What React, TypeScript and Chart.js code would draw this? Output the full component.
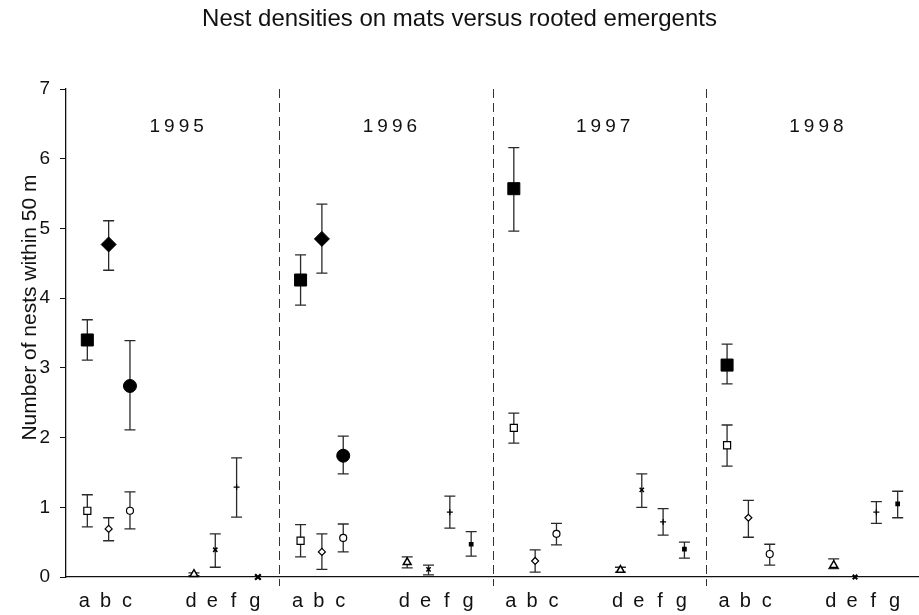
import React, { useEffect, useRef } from 'react';
import { Chart, registerables } from 'chart.js';

Chart.register(...registerables);

const FONT = "'Liberation Sans', Arial, Helvetica, sans-serif";

const years = ['1995', '1996', '1997', '1998'];
const categories = ['a', 'b', 'c', 'd', 'e', 'f', 'g'];
const slotOffsets = [1, 2, 3, 6, 7, 8, 9];
const panelSlots = 10;
const yTickValues = [0, 1, 2, 3, 4, 5, 6, 7];
const yAxisTitle = 'Number of nests within 50 m';

// Mats (filled markers) — categories a, b, c
const matA = [3.4, 4.26, 5.57, 3.04];
const matAHi = [3.69, 4.62, 6.16, 3.34];
const matALo = [3.11, 3.9, 4.96, 2.77];
const matB = [4.77, 4.85, null, null];
const matBHi = [5.11, 5.35, null, null];
const matBLo = [4.4, 4.36, null, null];
const matC = [2.74, 1.74, null, null];
const matCHi = [3.39, 2.02, null, null];
const matCLo = [2.11, 1.48, null, null];

// Rooted emergents (open markers) — categories a, b, c
const emA = [0.95, 0.52, 2.14, 1.89];
const emAHi = [1.18, 0.75, 2.35, 2.18];
const emALo = [0.72, 0.29, 1.92, 1.59];
const emB = [0.69, 0.36, 0.23, 0.85];
const emBHi = [0.85, 0.62, 0.39, 1.1];
const emBLo = [0.52, 0.11, 0.07, 0.57];
const emC = [0.95, 0.56, 0.62, 0.33];
const emCHi = [1.22, 0.76, 0.77, 0.47];
const emCLo = [0.69, 0.36, 0.46, 0.17];

// Categories d, e, f, g
const catD = [0.04, 0.21, 0.1, 0.17];
const catDHi = [0.06, 0.29, 0.14, 0.26];
const catDLo = [0.02, 0.13, 0.07, 0.12];
const catE = [0.39, 0.11, 1.25, 0.0];
const catEHi = [0.62, 0.17, 1.48, 0.0];
const catELo = [0.14, 0.03, 1.0, 0.0];
const catF = [1.29, 0.93, 0.79, 0.93];
const catFHi = [1.71, 1.16, 0.98, 1.08];
const catFLo = [0.86, 0.7, 0.6, 0.77];
const catG = [0.0, 0.47, 0.4, 1.05];
const catGHi = [0.0, 0.65, 0.5, 1.23];
const catGLo = [0.0, 0.3, 0.27, 0.85];

const xFor = (yearIdx: number, catIdx: number) => yearIdx * panelSlots + slotOffsets[catIdx];

function makeSet(label: string, catIdx: number, vals: (number | null)[], hi: (number | null)[], lo: (number | null)[], style: any) {
  const data: any[] = [];
  const his: (number | null)[] = [];
  const los: (number | null)[] = [];
  vals.forEach((v, i) => {
    if (v === null) return;
    data.push({ x: xFor(i, catIdx), y: v });
    his.push(hi[i]);
    los.push(lo[i]);
  });
  return { label, data, errHi: his, errLo: los, showLine: false, clip: false, ...style };
}

const errorBarPlugin = {
  id: 'errorBars',
  beforeDatasetsDraw(chart: any) {
    const { ctx } = chart;
    const yScale = chart.scales.y;
    ctx.save();
    ctx.strokeStyle = '#2a2a2a';
    ctx.lineWidth = 1.3;
    chart.data.datasets.forEach((ds: any, di: number) => {
      const meta = chart.getDatasetMeta(di);
      meta.data.forEach((pt: any, i: number) => {
        const hi = ds.errHi[i];
        const lo = ds.errLo[i];
        if (hi == null || lo == null || hi === lo) return;
        const x = pt.x;
        const yH = yScale.getPixelForValue(hi);
        const yL = yScale.getPixelForValue(lo);
        const cap = 5.5;
        ctx.beginPath();
        ctx.moveTo(x, yH);
        ctx.lineTo(x, yL);
        ctx.moveTo(x - cap, yH);
        ctx.lineTo(x + cap, yH);
        ctx.moveTo(x - cap, yL);
        ctx.lineTo(x + cap, yL);
        ctx.stroke();
      });
    });
    ctx.restore();
  },
};

const panelPlugin = {
  id: 'panels',
  beforeDatasetsDraw(chart: any) {
    const { ctx, chartArea } = chart;
    const xScale = chart.scales.x;
    const yScale = chart.scales.y;
    ctx.save();
    // dashed separators
    ctx.strokeStyle = '#333';
    ctx.lineWidth = 1;
    ctx.setLineDash([9, 5]);
    for (let i = 1; i < years.length; i++) {
      const x = Math.round(xScale.getPixelForValue(i * panelSlots)) + 0.5;
      ctx.beginPath();
      ctx.moveTo(x, chartArea.top);
      ctx.lineTo(x, chartArea.bottom + 9);
      ctx.stroke();
    }
    ctx.setLineDash([]);
    // year labels
    ctx.fillStyle = '#111';
    ctx.font = `19px ${FONT}`;
    (ctx as any).letterSpacing = '4px';
    ctx.textAlign = 'center';
    ctx.textBaseline = 'middle';
    years.forEach((yr, i) => {
      const x = xScale.getPixelForValue(i * panelSlots + panelSlots / 2) + 6;
      const y = yScale.getPixelForValue(6.46);
      ctx.fillText(yr, x, y);
    });
    (ctx as any).letterSpacing = '0px';
    // y-axis title, centred on the whole figure height
    ctx.translate(30, chart.height / 2);
    ctx.rotate(-Math.PI / 2);
    ctx.font = `21px ${FONT}`;
    ctx.fillText(yAxisTitle, 0, 0);
    ctx.restore();
  },
};

const tickPositions: number[] = [];
const tickLabelMap: Record<number, string> = {};
years.forEach((_, yi) => {
  categories.forEach((c, ci) => {
    const v = xFor(yi, ci);
    tickPositions.push(v);
    tickLabelMap[v] = c;
  });
});

export default function App() {
  const canvasRef = useRef<HTMLCanvasElement | null>(null);

  useEffect(() => {
    if (!canvasRef.current) return;
    const filled = { backgroundColor: '#000', borderColor: '#000', borderWidth: 1 };
    const open = { backgroundColor: '#fff', borderColor: '#000', borderWidth: 1.2 };
    const isZero = (c: any) => c.raw && c.raw.y === 0;
    const datasets = [
      makeSet('mats a', 0, matA, matAHi, matALo, { ...filled, pointStyle: 'rect', pointRadius: 8.5 }),
      makeSet('mats b', 1, matB, matBHi, matBLo, { ...filled, pointStyle: 'rectRot', pointRadius: 7.5 }),
      makeSet('mats c', 2, matC, matCHi, matCLo, { ...filled, pointStyle: 'circle', pointRadius: 6.5 }),
      makeSet('emergents a', 0, emA, emAHi, emALo, { ...open, pointStyle: 'rect', pointRadius: 5 }),
      makeSet('emergents b', 1, emB, emBHi, emBLo, { ...open, pointStyle: 'rectRot', pointRadius: 3.5 }),
      makeSet('emergents c', 2, emC, emCHi, emCLo, { ...open, pointStyle: 'circle', pointRadius: 3.5 }),
      makeSet('d', 3, catD, catDHi, catDLo, { ...open, borderWidth: 1.5, pointStyle: 'triangle', pointRadius: 4.5 }),
      makeSet('e', 4, catE, catEHi, catELo, {
        backgroundColor: '#000',
        borderColor: '#000',
        borderWidth: (c: any) => (isZero(c) ? 2 : 1.6),
        pointStyle: 'crossRot',
        pointRadius: (c: any) => (isZero(c) ? 3.2 : 3),
      }),
      makeSet('f', 5, catF, catFHi, catFLo, { backgroundColor: '#000', borderColor: '#000', borderWidth: 1.2, pointStyle: 'cross', pointRadius: 3 }),
      makeSet('g', 6, catG, catGHi, catGLo, {
        backgroundColor: '#000',
        borderColor: '#000',
        borderWidth: (c: any) => (isZero(c) ? 2.2 : 1.6),
        pointStyle: (c: any) => (isZero(c) ? 'crossRot' : 'rect'),
        pointRadius: (c: any) => (isZero(c) ? 4 : 2.2),
      }),
    ];

    const chart = new Chart(canvasRef.current, {
      type: 'scatter',
      data: { datasets: datasets as any },
      plugins: [errorBarPlugin, panelPlugin],
      options: {
        animation: false,
        responsive: true,
        maintainAspectRatio: false,
        layout: { padding: 0, autoPadding: false },
        plugins: {
          legend: { display: false },
          tooltip: { enabled: false },
          title: {
            display: true,
            text: 'Nest densities on mats versus rooted emergents',
            color: '#111',
            font: { family: FONT, size: 24, weight: 'normal' as any },
            padding: { top: 5, bottom: 55.2 },
          },
        },
        scales: {
          x: {
            type: 'linear',
            min: 0,
            max: years.length * panelSlots,
            grid: { display: false, drawTicks: false },
            border: { display: true, color: '#111', width: 1.3 },
            afterBuildTicks: (scale: any) => {
              scale.ticks = tickPositions.map((v) => ({ value: v }));
            },
            afterFit: (scale: any) => {
              scale.height = 38;
              scale.paddingLeft = 0;
              scale.paddingRight = 0;
            },
            ticks: {
              autoSkip: false,
              maxRotation: 0,
              padding: 12,
              labelOffset: -3,
              color: '#111',
              font: { family: FONT, size: 20 },
              callback: (v: any) => tickLabelMap[v as number] ?? '',
            },
          },
          y: {
            type: 'linear',
            min: 0,
            max: 7,
            afterBuildTicks: (scale: any) => {
              scale.ticks = yTickValues.map((v) => ({ value: v }));
            },
            afterFit: (scale: any) => {
              scale.width = 66;
              scale.paddingLeft = 0;
              scale.paddingRight = 0;
            },
            grid: { display: true, drawOnChartArea: false, drawTicks: true, tickLength: 6, color: '#111' },
            border: { display: true, color: '#111', width: 1.3 },
            ticks: {
              padding: 10,
              color: '#111',
              font: { family: FONT, size: 19 },
            },
          },
        },
      },
    });
    return () => chart.destroy();
  }, []);

  return (
    <div style={{ position: 'fixed', left: 0, top: 0, width: 919, height: 615, background: '#fff' }}>
      <canvas ref={canvasRef} />
    </div>
  );
}
